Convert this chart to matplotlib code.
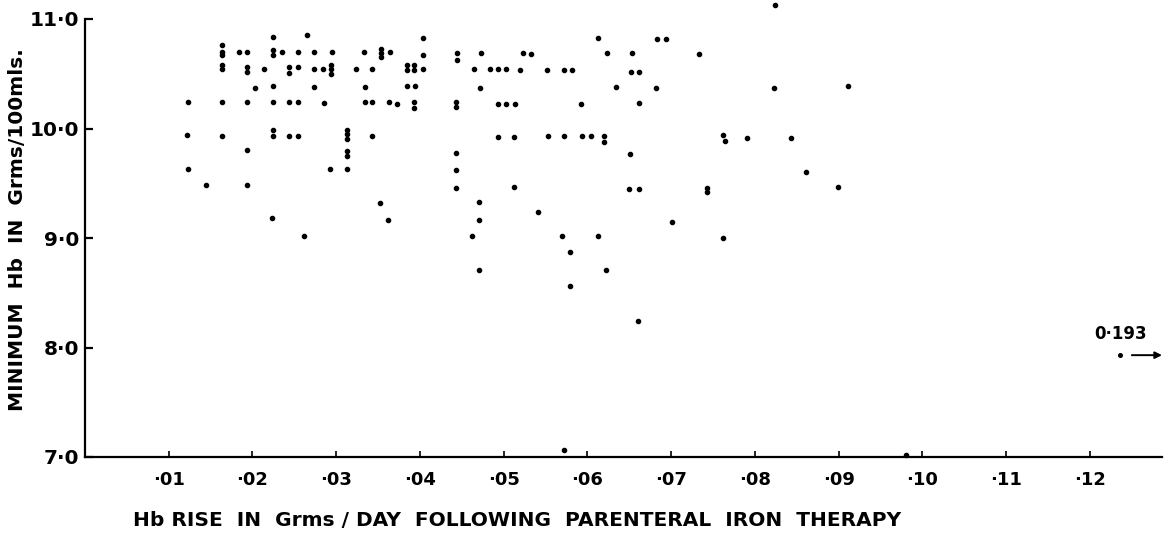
import matplotlib
matplotlib.use("Agg")
import matplotlib.pyplot as plt

# Hb rise (grams/day) and minimum Hb (grams/100 mls) for each patient
hb_rise = [
    0.0225, 0.0164, 0.0164, 0.0164, 0.0184, 0.0193, 0.0225, 0.0225, 0.0235,
    0.0164, 0.0164, 0.0193, 0.0193, 0.0214, 0.0244, 0.0244, 0.0203, 0.0225,
    0.0123, 0.0163, 0.0193, 0.0225, 0.0244, 0.0122, 0.0163, 0.0224, 0.0224,
    0.0243, 0.0193, 0.0123, 0.0144, 0.0193, 0.0223,
    0.0265, 0.0403, 0.0254, 0.0273, 0.0295, 0.0333, 0.0354, 0.0354, 0.0354,
    0.0364, 0.0403, 0.0444, 0.0444, 0.0254, 0.0274, 0.0284, 0.0294, 0.0294,
    0.0294, 0.0324, 0.0343, 0.0384, 0.0384, 0.0393, 0.0393, 0.0403, 0.0274,
    0.0334, 0.0384, 0.0394, 0.0254, 0.0285, 0.0334, 0.0343, 0.0363, 0.0373,
    0.0393, 0.0393, 0.0443, 0.0443, 0.0254, 0.0313, 0.0313, 0.0313, 0.0343,
    0.0313, 0.0313, 0.0443,
    0.0292, 0.0313, 0.0443, 0.0443, 0.0352, 0.0362, 0.0261,
    0.0612, 0.0473, 0.0523, 0.0532, 0.0623, 0.0653, 0.0464, 0.0483, 0.0493,
    0.0503, 0.0520, 0.0552, 0.0572, 0.0581, 0.0652, 0.0662, 0.0472, 0.0634,
    0.0493, 0.0503, 0.0513, 0.0592, 0.0662, 0.0493, 0.0512, 0.0553, 0.0572,
    0.0593, 0.0604, 0.0620, 0.0620, 0.0651,
    0.0471, 0.0512, 0.0471, 0.0541, 0.0650, 0.0662, 0.0462, 0.0570, 0.0612,
    0.0579, 0.0471, 0.0622, 0.0579,
    0.0824, 0.0683, 0.0694, 0.0733, 0.0682, 0.0823, 0.0762, 0.0764, 0.0791,
    0.0843, 0.0861, 0.0743, 0.0743, 0.0701, 0.0762,
    0.0572, 0.0660, 0.0980, 0.0899, 0.0911,
]
hb_min = [
    10.84, 10.76, 10.70, 10.67, 10.70, 10.70, 10.72, 10.67, 10.70,
    10.58, 10.54, 10.56, 10.52, 10.54, 10.56, 10.51, 10.37, 10.39,
    10.24, 10.24, 10.24, 10.24, 10.24, 9.94, 9.93, 9.99, 9.93,
    9.93, 9.80, 9.63, 9.48, 9.48, 9.18,
    10.85, 10.83, 10.70, 10.70, 10.70, 10.70, 10.73, 10.69, 10.65,
    10.70, 10.67, 10.69, 10.63, 10.56, 10.54, 10.54, 10.58, 10.54,
    10.50, 10.54, 10.54, 10.58, 10.53, 10.58, 10.53, 10.54, 10.38,
    10.38, 10.39, 10.39, 10.24, 10.23, 10.24, 10.24, 10.24, 10.22,
    10.24, 10.19, 10.24, 10.20, 9.93, 9.99, 9.95, 9.90, 9.93,
    9.79, 9.75, 9.78,
    9.63, 9.63, 9.62, 9.46, 9.32, 9.16, 9.02,
    10.83, 10.69, 10.69, 10.68, 10.69, 10.69, 10.54, 10.54, 10.54,
    10.54, 10.53, 10.53, 10.53, 10.53, 10.52, 10.52, 10.37, 10.38,
    10.22, 10.22, 10.22, 10.22, 10.23, 9.92, 9.92, 9.93, 9.93,
    9.93, 9.93, 9.93, 9.88, 9.77,
    9.33, 9.47, 9.16, 9.24, 9.45, 9.45, 9.02, 9.02, 9.02,
    8.87, 8.71, 8.71, 8.56,
    11.13, 10.82, 10.82, 10.68, 10.37, 10.37, 9.94, 9.89, 9.91,
    9.91, 9.60, 9.46, 9.42, 9.15, 9.00,
    7.06, 8.24, 7.02, 9.47, 10.39,
]
# off-scale patient (rise of 0.193 g/day)
outlier_x = [0.1236]
outlier_y = [7.93]
outlier_label = "0·193"

x_ticks = [0.01, 0.02, 0.03, 0.04, 0.05, 0.06, 0.07, 0.08, 0.09, 0.10, 0.11, 0.12]
x_tick_labels = ["·01", "·02", "·03", "·04", "·05", "·06", "·07", "·08", "·09", "·10", "·11", "·12"]
y_ticks = [7.0, 8.0, 9.0, 10.0, 11.0]
y_tick_labels = ["7·0", "8·0", "9·0", "10·0", "11·0"]

x_label = "Hb RISE  IN  Grms / DAY  FOLLOWING  PARENTERAL  IRON  THERAPY"
y_label = "MINIMUM  Hb  IN  Grms/100mls."

plt.rcParams['font.family'] = ['DejaVu Sans']

fig = plt.figure(figsize=(11.72, 5.5), dpi=100)
W, H = 1172, 550
ax = fig.add_axes([85 / W, 1 - 457 / H, (1162 - 85) / W, (457 - 19) / H])

ax.plot(hb_rise, hb_min, 'o', color='black', markersize=3.0, clip_on=False)
ax.plot(outlier_x, outlier_y, 'o', color='black', markersize=2.6, clip_on=False)

ax.set_xlim(0, 0.1286)
ax.set_ylim(7.0, 11.0)

for s in ['top', 'right']:
    ax.spines[s].set_visible(False)
for s in ['left', 'bottom']:
    ax.spines[s].set_linewidth(1.6)
    ax.spines[s].set_color('black')

ax.set_xticks(x_ticks)
ax.set_xticklabels(x_tick_labels, fontsize=13, fontweight='bold')
ax.set_yticks(y_ticks)
ax.set_yticklabels(y_tick_labels, fontsize=14.5, fontweight='bold')
ax.tick_params(axis='x', direction='in', length=4, width=1.2, pad=10)
ax.tick_params(axis='y', direction='in', length=6, width=1.6, pad=4)

# outlier annotation
ax.annotate(outlier_label, xy=(outlier_x[0], outlier_y[0]),
            xytext=(0, 9), textcoords='offset points',
            ha='center', va='bottom', fontsize=12, fontweight='bold')
ax.annotate('', xy=(1.0, outlier_y[0]), xycoords=('axes fraction', 'data'),
            xytext=(0.1250, outlier_y[0]), textcoords='data',
            arrowprops=dict(arrowstyle='-|>', color='black', lw=1.4,
                            mutation_scale=10, shrinkA=0, shrinkB=0))

fig.text(517 / W, 1 - 521 / H, x_label, ha='center', va='center',
         fontsize=14.5, fontweight='bold')
fig.text(18 / W, 1 - 230 / H, y_label, ha='center', va='center',
         rotation=90, fontsize=14.5, fontweight='bold')

fig.savefig('out.png', dpi=100, facecolor='white')
